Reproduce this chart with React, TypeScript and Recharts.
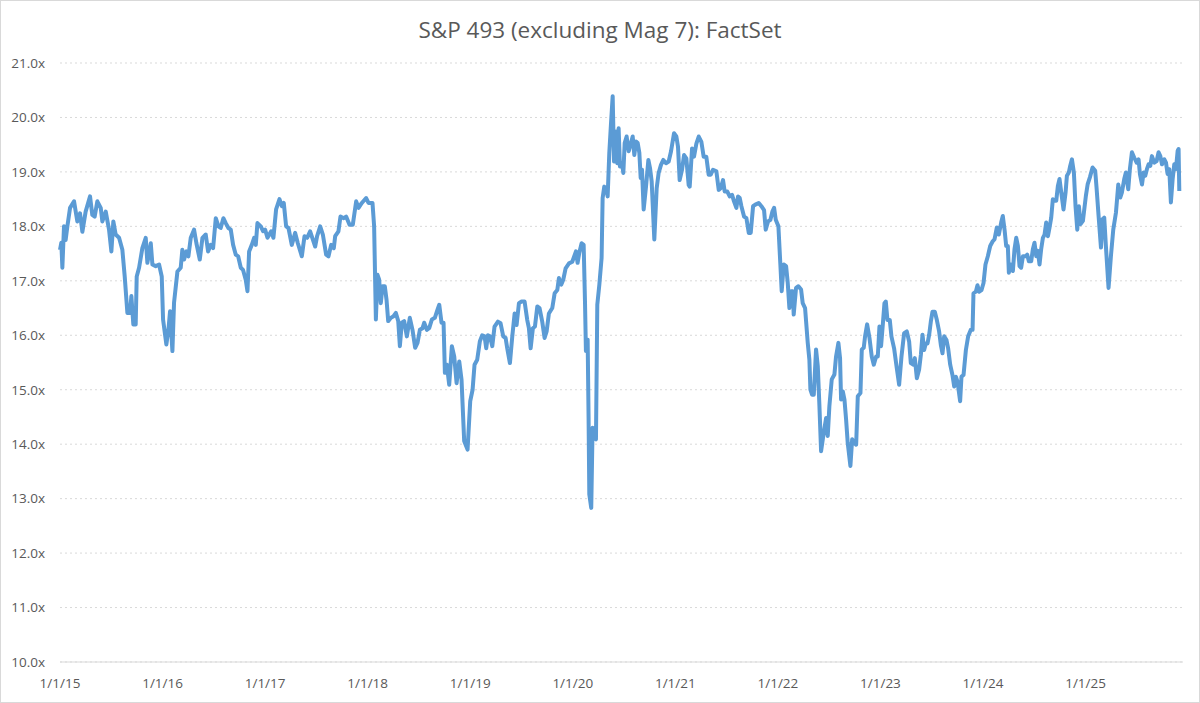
import { LineChart, Line, XAxis, YAxis, CartesianGrid } from 'recharts'

// time in decimal years, forward P/E multiple
const t = [
  2015.0, 2015.013, 2015.023, 2015.039, 2015.055, 2015.072, 2015.098, 2015.137, 2015.169, 2015.195,
  2015.218, 2015.25, 2015.293, 2015.315, 2015.338, 2015.364, 2015.397, 2015.413, 2015.446, 2015.478,
  2015.501, 2015.52, 2015.543, 2015.576, 2015.608, 2015.631, 2015.657, 2015.683, 2015.696, 2015.715,
  2015.738, 2015.748, 2015.771, 2015.803, 2015.836, 2015.852, 2015.885, 2015.901, 2015.933, 2015.966,
  2015.992,
  2016.005, 2016.037, 2016.057, 2016.073, 2016.096, 2016.112, 2016.145, 2016.177, 2016.193, 2016.21,
  2016.232, 2016.252, 2016.275, 2016.307, 2016.33, 2016.363, 2016.389, 2016.421, 2016.444, 2016.47,
  2016.493, 2016.519, 2016.545, 2016.567, 2016.593, 2016.616, 2016.642, 2016.665, 2016.688, 2016.714,
  2016.737, 2016.763, 2016.785, 2016.811, 2016.828, 2016.844, 2016.87, 2016.893, 2016.909, 2016.925,
  2016.958, 2016.98,
  2017.0, 2017.023, 2017.059, 2017.081, 2017.107, 2017.14, 2017.163, 2017.182, 2017.205, 2017.228,
  2017.26, 2017.293, 2017.319, 2017.358, 2017.384, 2017.41, 2017.439, 2017.465, 2017.488, 2017.507,
  2017.537, 2017.563, 2017.595, 2017.618, 2017.644, 2017.67, 2017.683, 2017.715, 2017.735, 2017.767,
  2017.79, 2017.823, 2017.855, 2017.888, 2017.911, 2017.943, 2017.985,
  2018.008, 2018.034, 2018.047, 2018.063, 2018.08, 2018.096, 2018.112, 2018.128, 2018.145, 2018.167,
  2018.184, 2018.2, 2018.226, 2018.252, 2018.275, 2018.298, 2018.314, 2018.333, 2018.356, 2018.382,
  2018.411, 2018.437, 2018.463, 2018.486, 2018.509, 2018.535, 2018.551, 2018.577, 2018.6, 2018.626,
  2018.655, 2018.681, 2018.698, 2018.72, 2018.74, 2018.753, 2018.772, 2018.795, 2018.821, 2018.844,
  2018.867, 2018.893, 2018.915, 2018.941, 2018.974,
  2019.0, 2019.023, 2019.042, 2019.068, 2019.094, 2019.117, 2019.14, 2019.156, 2019.172, 2019.192,
  2019.215, 2019.237, 2019.27, 2019.296, 2019.322, 2019.345, 2019.361, 2019.387, 2019.41, 2019.433,
  2019.452, 2019.475, 2019.501, 2019.53, 2019.556, 2019.572, 2019.589, 2019.611, 2019.631, 2019.654,
  2019.676, 2019.702, 2019.725, 2019.745, 2019.767, 2019.8, 2019.823, 2019.849, 2019.865, 2019.888,
  2019.907, 2019.93, 2019.963, 2019.995,
  2020.031, 2020.047, 2020.063, 2020.086, 2020.106, 2020.119, 2020.128, 2020.145, 2020.154, 2020.161,
  2020.18, 2020.193, 2020.21, 2020.226, 2020.239, 2020.259, 2020.281, 2020.291, 2020.307, 2020.324,
  2020.34, 2020.356, 2020.372, 2020.389, 2020.402, 2020.421, 2020.434, 2020.447, 2020.46, 2020.48,
  2020.493, 2020.506, 2020.525, 2020.545, 2020.568, 2020.584, 2020.6, 2020.616, 2020.633, 2020.649,
  2020.662, 2020.675, 2020.691, 2020.714, 2020.737, 2020.753, 2020.769, 2020.795, 2020.818, 2020.837,
  2020.86, 2020.883, 2020.909, 2020.935, 2020.958, 2020.987,
  2021.01, 2021.026, 2021.042, 2021.065, 2021.085, 2021.107, 2021.13, 2021.14, 2021.163, 2021.182,
  2021.205, 2021.228, 2021.254, 2021.276, 2021.302, 2021.325, 2021.345, 2021.367, 2021.4, 2021.423,
  2021.442, 2021.465, 2021.481, 2021.507, 2021.53, 2021.553, 2021.572, 2021.595, 2021.611, 2021.628,
  2021.644, 2021.67, 2021.693, 2021.716, 2021.735, 2021.758, 2021.78, 2021.813, 2021.839, 2021.865,
  2021.881, 2021.904, 2021.927, 2021.946, 2021.963, 2021.979,
  2022.005, 2022.024, 2022.037, 2022.057, 2022.08, 2022.096, 2022.112, 2022.128, 2022.145, 2022.154,
  2022.177, 2022.2, 2022.226, 2022.242, 2022.265, 2022.291, 2022.307, 2022.317, 2022.333, 2022.35,
  2022.372, 2022.389, 2022.405, 2022.421, 2022.447, 2022.47, 2022.486, 2022.502, 2022.525, 2022.551,
  2022.567, 2022.59, 2022.606, 2022.616, 2022.633, 2022.649, 2022.665, 2022.681, 2022.707, 2022.724,
  2022.746, 2022.763, 2022.779, 2022.805, 2022.818, 2022.837, 2022.85, 2022.87, 2022.893, 2022.915,
  2022.935, 2022.958, 2022.974, 2022.99,
  2023.006, 2023.023, 2023.039, 2023.052, 2023.068, 2023.091, 2023.107, 2023.133, 2023.159, 2023.182,
  2023.205, 2023.231, 2023.257, 2023.28, 2023.296, 2023.322, 2023.335, 2023.355, 2023.377, 2023.394,
  2023.41, 2023.426, 2023.442, 2023.459, 2023.475, 2023.491, 2023.507, 2023.53, 2023.55, 2023.572,
  2023.589, 2023.605, 2023.621, 2023.644, 2023.66, 2023.68, 2023.702, 2023.719, 2023.735, 2023.751,
  2023.777, 2023.79, 2023.81, 2023.833, 2023.855, 2023.881, 2023.898, 2023.907, 2023.93, 2023.946,
  2023.963, 2023.985,
  2024.005, 2024.024, 2024.047, 2024.07, 2024.096, 2024.112, 2024.135, 2024.154, 2024.177, 2024.193,
  2024.21, 2024.226, 2024.242, 2024.252, 2024.268, 2024.291, 2024.307, 2024.324, 2024.34, 2024.356,
  2024.372, 2024.389, 2024.415, 2024.431, 2024.447, 2024.47, 2024.486, 2024.502, 2024.519, 2024.535,
  2024.551, 2024.567, 2024.584, 2024.6, 2024.616, 2024.633, 2024.649, 2024.665, 2024.681, 2024.698,
  2024.714, 2024.73, 2024.746, 2024.763, 2024.785, 2024.805, 2024.818, 2024.837, 2024.85, 2024.867,
  2024.886, 2024.902, 2024.919, 2024.935, 2024.951, 2024.974,
  2025.003, 2025.02, 2025.042, 2025.068, 2025.094, 2025.107, 2025.127, 2025.15, 2025.166, 2025.182,
  2025.198, 2025.224, 2025.247, 2025.27, 2025.296, 2025.319, 2025.338, 2025.354, 2025.377, 2025.393,
  2025.416, 2025.432, 2025.452, 2025.475, 2025.498, 2025.517, 2025.53, 2025.55, 2025.566, 2025.582,
  2025.598, 2025.615, 2025.631, 2025.647, 2025.67, 2025.693, 2025.712, 2025.729, 2025.745, 2025.768,
  2025.784, 2025.8, 2025.816, 2025.832, 2025.849, 2025.865, 2025.881, 2025.898, 2025.907, 2025.914,
]

const pe = [
  17.57, 17.7, 17.24, 18.0, 17.75, 18.0, 18.34, 18.46, 18.09, 18.24,
  17.9, 18.27, 18.55, 18.21, 18.18, 18.46, 18.34, 18.09, 18.27, 17.94,
  17.54, 18.09, 17.85, 17.79, 17.57, 17.08, 16.41, 16.41, 16.72, 16.2,
  16.2, 17.08, 17.24, 17.6, 17.79, 17.33, 17.69, 17.3, 17.27, 17.3,
  17.08,
  16.29, 15.83, 16.1, 16.44, 15.71, 16.6, 17.17, 17.24, 17.57, 17.39,
  17.54, 17.45, 17.79, 17.94, 17.69, 17.39, 17.79, 17.85, 17.54, 17.66,
  17.6, 18.15, 18.0, 17.97, 18.15, 18.06, 17.97, 17.94, 17.66, 17.48,
  17.45, 17.24, 17.2, 17.02, 16.81, 17.54, 17.66, 17.79, 17.66, 18.06,
  18.0, 17.91,
  17.94, 17.79, 17.91, 17.79, 18.31, 18.5, 18.37, 18.43, 18.0, 17.97,
  17.66, 17.88, 17.69, 17.45, 17.82, 17.79, 17.91, 17.76, 17.63, 17.82,
  18.0, 17.85, 17.48, 17.45, 17.66, 17.6, 17.82, 17.91, 18.18, 18.15,
  18.18, 18.03, 18.03, 18.46, 18.34, 18.43, 18.52,
  18.43, 18.43, 18.43, 18.0, 16.29, 17.11, 17.02, 16.59, 16.9, 16.9,
  16.65, 16.26, 16.32, 16.35, 16.41, 16.26, 15.8, 16.23, 16.26, 15.98,
  16.32, 16.1, 15.77, 15.86, 16.1, 16.13, 16.23, 16.1, 16.13, 16.29,
  16.32, 16.47, 16.56, 16.23, 16.23, 15.31, 15.46, 15.09, 15.8, 15.61,
  15.12, 15.52, 15.19, 14.06, 13.9,
  14.79, 15.0, 15.46, 15.55, 15.89, 16.0, 15.98, 15.76, 16.0, 15.98,
  15.8, 16.16, 16.25, 16.22, 15.98, 15.95, 15.76, 15.49, 15.98, 16.4,
  16.19, 16.59, 16.62, 16.62, 16.28, 16.13, 15.76, 16.13, 16.16, 16.53,
  16.5, 16.25, 15.95, 16.07, 16.4, 16.5, 16.77, 16.83, 17.05, 16.93,
  17.02, 17.23, 17.32, 17.35,
  17.54, 17.33, 17.51, 17.69, 17.66, 16.62, 15.71, 15.92, 14.48, 13.08,
  12.83, 14.3, 14.12, 14.09, 16.56, 16.93, 17.42, 18.52, 18.73, 18.7,
  18.55, 19.35, 19.87, 20.39, 19.19, 19.74, 19.16, 19.8, 19.1, 19.16,
  18.98, 19.53, 19.65, 19.38, 19.53, 19.65, 19.31, 19.56, 19.53, 19.35,
  18.89, 19.04, 18.31, 18.73, 19.22, 19.07, 18.83, 17.76, 18.7, 18.98,
  19.13, 19.22, 19.16, 19.19, 19.38, 19.71,
  19.65, 19.46, 18.85, 19.04, 19.31, 19.25, 18.76, 18.73, 19.43, 19.28,
  19.52, 19.65, 19.55, 19.28, 19.28, 18.95, 18.95, 19.04, 19.01, 18.67,
  18.7, 18.85, 18.64, 18.64, 18.55, 18.58, 18.46, 18.34, 18.55, 18.52,
  18.37, 18.18, 18.15, 17.88, 17.88, 18.37, 18.4, 18.43, 18.37, 18.3,
  17.94, 18.09, 18.12, 18.27, 18.34, 18.12,
  18.0, 17.3, 16.81, 17.3, 17.27, 16.96, 16.5, 16.81, 16.81, 16.38,
  16.87, 16.9, 16.84, 16.59, 16.5, 15.86, 15.55, 15.0, 14.91, 14.91,
  15.74, 15.43, 14.7, 13.87, 14.21, 14.48, 14.15, 14.7, 15.19, 15.28,
  15.61, 15.86, 15.58, 14.82, 14.97, 14.82, 14.45, 14.02, 13.6, 14.09,
  14.02, 13.99, 14.88, 14.94, 15.74, 15.77, 15.98, 16.2, 15.95, 15.61,
  15.46, 15.61, 15.61, 16.16,
  15.8, 16.2, 16.59, 16.62, 16.28, 16.28, 15.98, 15.76, 15.4, 15.09,
  15.61, 16.04, 16.07, 15.88, 15.49, 15.46, 15.58, 15.21, 15.37, 15.64,
  16.01, 15.73, 15.85, 15.85, 16.01, 16.25, 16.43, 16.43, 16.28, 16.07,
  15.82, 15.67, 15.98, 15.91, 15.76, 15.46, 15.27, 15.06, 15.24, 15.15,
  14.79, 15.24, 15.27, 15.73, 15.98, 16.1, 16.1, 16.77, 16.8, 16.92,
  16.8, 16.83,
  16.96, 17.3, 17.45, 17.64, 17.73, 17.76, 17.98, 17.85, 18.07, 18.19,
  17.94, 17.64, 17.64, 17.15, 17.3, 17.18, 17.58, 17.79, 17.64, 17.27,
  17.24, 17.45, 17.45, 17.48, 17.36, 17.36, 17.58, 17.7, 17.45, 17.55,
  17.3, 17.58, 17.79, 17.85, 18.07, 17.82, 17.98, 18.16, 18.5, 18.47,
  18.47, 18.74, 18.87, 18.62, 18.31, 18.62, 18.93, 18.99, 19.11, 19.23,
  18.99, 18.37, 17.94, 18.37, 18.04, 18.1,
  18.56, 18.77, 18.9, 19.08, 19.02, 18.71, 18.19, 17.61, 18.13, 18.16,
  17.64, 16.87, 17.45, 17.94, 18.25, 18.77, 18.53, 18.62, 18.87, 18.99,
  18.68, 19.05, 19.36, 19.26, 19.17, 19.23, 18.96, 18.77, 18.99, 18.93,
  19.05, 19.14, 19.11, 19.29, 19.17, 19.2, 19.36, 19.29, 19.14, 19.23,
  19.17, 18.96, 19.05, 18.44, 18.87, 19.14, 19.05, 19.39, 19.42, 18.65,
]

const xTicks = [2015, 2016, 2017, 2018, 2019, 2020, 2021, 2022, 2023, 2024, 2025]
const xLabels = ['1/1/15', '1/1/16', '1/1/17', '1/1/18', '1/1/19', '1/1/20', '1/1/21', '1/1/22', '1/1/23', '1/1/24', '1/1/25']
const yTicks = [10, 11, 12, 13, 14, 15, 16, 17, 18, 19, 20, 21]

const data = t.map((x, i) => ({ t: x, pe: pe[i] }))

const TEXT = '#595959'
const GRID = '#d9d9d9'

export default function App() {
  return (
    <div
      style={{
        position: 'fixed',
        left: 0,
        top: 0,
        width: 1200,
        height: 703,
        background: '#fff',
        fontFamily: '"Open Sans", sans-serif',
      }}
    >
      <div
        style={{
          position: 'absolute',
          top: 14,
          width: '100%',
          textAlign: 'center',
          fontSize: 22.5,
          color: TEXT,
        }}
      >
        S&amp;P 493 (excluding Mag 7): FactSet
      </div>
      <LineChart width={1200} height={703} data={data} margin={{ top: 63, right: 17, left: 0, bottom: 11 }}>
        <CartesianGrid vertical={false} stroke={GRID} strokeDasharray="2 3" />
        <XAxis
          type="number"
          dataKey="t"
          domain={[2015, 2025.95]}
          ticks={xTicks}
          tickFormatter={(v) => xLabels[xTicks.indexOf(v)] ?? ''}
          axisLine={{ stroke: GRID }}
          tickLine={false}
          tickSize={0}
          tickMargin={16}
          height={30}
          tick={{ fill: TEXT, fontSize: 13.5 }}
        />
        <YAxis
          type="number"
          domain={[10, 21]}
          ticks={yTicks}
          tickFormatter={(v) => `${v.toFixed(1)}x`}
          axisLine={false}
          tickLine={false}
          tickSize={0}
          tickMargin={15}
          width={60}
          tick={{ fill: TEXT, fontSize: 13.5 }}
        />
        <Line
          type="linear"
          dataKey="pe"
          stroke="#5b9bd5"
          strokeWidth={4}
          strokeLinejoin="round"
          dot={false}
          isAnimationActive={false}
        />
      </LineChart>
      <div
        style={{
          position: 'absolute',
          inset: 0,
          border: `1px solid ${GRID}`,
          pointerEvents: 'none',
        }}
      />
    </div>
  )
}
